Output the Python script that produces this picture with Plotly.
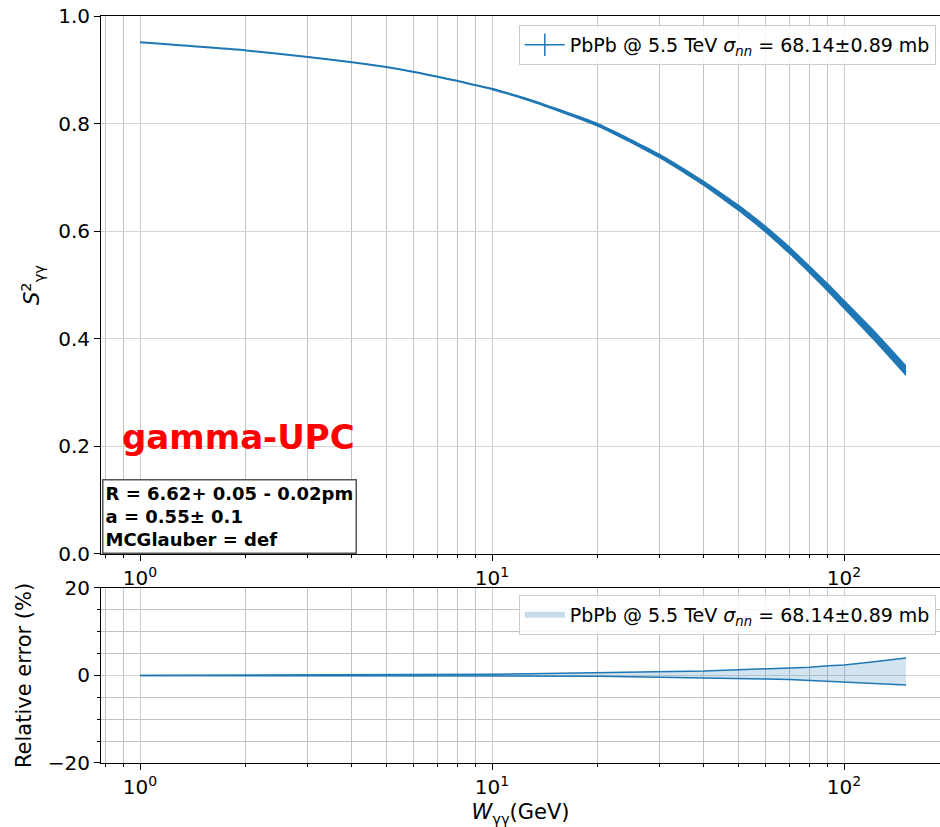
import plotly.graph_objects as go

# ---- data ----
W = [1, 2, 3, 4, 5, 6, 7, 8, 9, 10, 12.8, 15, 20, 30, 40, 50, 60, 70, 80, 90, 100, 120, 150]
S2 = [0.951, 0.936, 0.924, 0.914, 0.905, 0.896, 0.887, 0.879, 0.871, 0.864, 0.843, 0.827,
      0.796, 0.738, 0.687, 0.642, 0.601, 0.562, 0.526, 0.493, 0.462, 0.408, 0.338]
err_up = [0, 0.05, 0.08, 0.1, 0.12, 0.15, 0.18, 0.2, 0.25, 0.3, 0.38, 0.45,
          0.65, 0.8, 1.0, 1.3, 1.5, 1.8, 1.9, 2.2, 2.4, 3.1, 4.0]
err_lo = [0, 0, 0, 0, 0, 0, 0, -0.02, -0.03, -0.05, -0.08, -0.1,
          -0.15, -0.4, -0.5, -0.65, -0.8, -0.9, -1.1, -1.3, -1.5, -1.8, -2.2]

legend_label = "PbPb @ 5.5 TeV <i>σ<sub>nn</sub></i> = 68.14±0.89 mb"
x_tickvals = [1, 10, 100]
x_ticktext = ["10<sup>0</sup>", "10<sup>1</sup>", "10<sup>2</sup>"]
x_minor = [0.8, 0.9, 2, 3, 4, 5, 6, 7, 8, 9, 20, 30, 40, 50, 60, 70, 80, 90, 200]
y1_ticks = [0.0, 0.2, 0.4, 0.6, 0.8, 1.0]
y1_text = ["0.0", "0.2", "0.4", "0.6", "0.8", "1.0"]
y2_ticks = [-20, 0, 20]
y2_text = ["−20", "0", "20"]
y2_minor = [-15, -10, -5, 5, 10, 15]

BLUE = "#1f77b4"
FONT = "DejaVu Sans"

S2_hi = [s * (1 + u / 100) for s, u in zip(S2, err_up)]
S2_lo = [s * (1 + l / 100) for s, l in zip(S2, err_lo)]

fig = go.Figure()

# top panel band (error bars) + central line
fig.add_trace(go.Scatter(x=W, y=S2_lo, mode="lines", line=dict(width=0, color=BLUE, shape="spline", smoothing=0.6),
                         showlegend=False, xaxis="x", yaxis="y", hoverinfo="skip"))
fig.add_trace(go.Scatter(x=W, y=S2_hi, mode="lines", line=dict(width=0, color=BLUE, shape="spline", smoothing=0.6),
                         fill="tonexty", fillcolor=BLUE, showlegend=False, xaxis="x", yaxis="y"))
fig.add_trace(go.Scatter(x=W, y=S2, mode="lines", line=dict(width=2, color=BLUE, shape="spline", smoothing=0.6),
                         showlegend=False, xaxis="x", yaxis="y"))
fig.add_trace(go.Scatter(x=[None], y=[None], mode="lines+markers", name=legend_label,
                         line=dict(width=1.5, color=BLUE),
                         marker=dict(symbol="line-ns", size=16, line=dict(width=1.5, color=BLUE)),
                         xaxis="x", yaxis="y", legend="legend"))

# bottom panel relative error band
fig.add_trace(go.Scatter(x=W, y=err_lo, mode="lines", line=dict(width=1.5, color=BLUE),
                         showlegend=False, xaxis="x2", yaxis="y2"))
fig.add_trace(go.Scatter(x=W, y=err_up, mode="lines", line=dict(width=1.5, color=BLUE),
                         fill="tonexty", fillcolor="rgba(31,119,180,0.2)",
                         showlegend=False, xaxis="x2", yaxis="y2"))
fig.add_trace(go.Scatter(x=[None], y=[None], mode="none", fill="toself",
                         fillcolor="rgba(31,119,180,0.25)", name=legend_label,
                         xaxis="x2", yaxis="y2", legend="legend2"))

xcommon = dict(type="log", range=[-0.1108, 2.2727], tickvals=x_tickvals, ticktext=x_ticktext,
               ticks="outside", ticklen=6, tickcolor="black", tickwidth=1,
               showline=True, linecolor="black", linewidth=1, mirror=True,
               showgrid=True, gridcolor="#cccccc", gridwidth=1, zeroline=False,
               tickfont=dict(size=20, color="black", family=FONT),
               minor=dict(tickvals=x_minor, ticks="outside", ticklen=3, tickcolor="black",
                          showgrid=True, gridcolor="#c2c2c2", gridwidth=1))

fig.update_layout(
    width=940, height=827,
    margin=dict(l=101, r=0, t=16, b=64),
    paper_bgcolor="white", plot_bgcolor="white",
    font=dict(family=FONT, color="black"),
    xaxis=dict(anchor="y", domain=[0, 1], **xcommon),
    yaxis=dict(anchor="x", domain=[0.2798, 1], range=[0, 1], tickvals=y1_ticks, ticktext=y1_text,
               ticks="outside", ticklen=6, tickcolor="black", showline=True, linecolor="black",
               linewidth=1, mirror=False, showgrid=True, gridcolor="#d4d4d4", gridwidth=1.3,
               zeroline=False, tickfont=dict(size=20, color="black"),
               title=dict(text="<i>S</i><sup>2</sup><sub>γγ</sub>", font=dict(size=21), standoff=12)),
    xaxis2=dict(anchor="y2", domain=[0, 1],
                title=dict(text="<i>W</i><sub>γγ</sub>(GeV)", font=dict(size=21), standoff=6),
                **xcommon),
    yaxis2=dict(anchor="x2", domain=[0, 0.2343], range=[-20, 20], tickvals=y2_ticks, ticktext=y2_text,
                ticks="outside", ticklen=6, tickcolor="black", showline=True, linecolor="black",
                linewidth=1, mirror=False, showgrid=True, gridcolor="#d4d4d4", gridwidth=1.3,
                zeroline=False, tickfont=dict(size=20, color="black"),
                minor=dict(tickvals=y2_minor, ticks="outside", ticklen=3, tickcolor="black",
                           showgrid=True, gridcolor="#c2c2c2", gridwidth=1),
                title=dict(text="Relative error (%)", font=dict(size=21), standoff=10)),
    legend=dict(x=0.995, xanchor="right", y=0.988, yanchor="top", bgcolor="rgba(255,255,255,0.85)",
                bordercolor="#cccccc", borderwidth=1, font=dict(size=19, color="black"),
                itemwidth=40),
    legend2=dict(x=0.995, xanchor="right", y=0.225, yanchor="top", bgcolor="rgba(255,255,255,0.85)",
                 bordercolor="#cccccc", borderwidth=1, font=dict(size=19, color="black"),
                 itemwidth=40),
    annotations=[
        dict(text="<b>gamma-UPC</b>", xref="paper", yref="paper", x=0.0226, y=0.4364,
             xanchor="left", yanchor="middle", showarrow=False,
             font=dict(size=34, color="red", family=FONT)),
        dict(text="<b>R = 6.62+ 0.05 - 0.02pm<br>a = 0.55± 0.1<br>MCGlauber = def</b>",
             xref="paper", yref="paper", x=0.001, y=0.2798, xanchor="left", yanchor="bottom",
             showarrow=False, align="left", bgcolor="white", bordercolor="#555555", borderwidth=1.5,
             borderpad=2, font=dict(size=18, color="black", family=FONT)),
    ],
)

fig.write_html("out.html")
